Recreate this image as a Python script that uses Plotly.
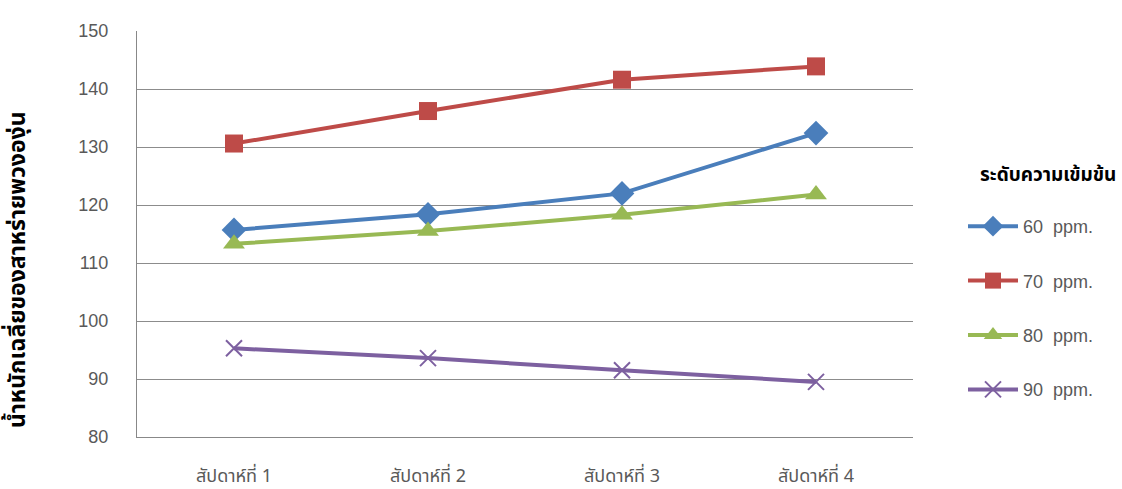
import plotly.graph_objects as go

weeks = ["สัปดาห์ที่ 1", "สัปดาห์ที่ 2", "สัปดาห์ที่ 3", "สัปดาห์ที่ 4"]
series_names = ["60  ppm.", "70  ppm.", "80  ppm.", "90  ppm."]
ppm60 = [115.7, 118.4, 122.0, 132.4]
ppm70 = [130.6, 136.2, 141.6, 143.9]
ppm80 = [113.3, 115.5, 118.3, 121.8]
ppm90 = [95.3, 93.6, 91.5, 89.5]
y_title = "น้ำหนักเฉลี่ยของสาหร่ายพวงองุ่น"
legend_title = "ระดับความเข้มข้น"

colors = ["#4A7EBB", "#BE4B48", "#98B954", "#7D60A0"]
symbols = ["diamond", "square", "triangle-up", "x-thin"]
sizes = [19, 18, 19, 16]
values = [ppm60, ppm70, ppm80, ppm90]

THAI = "Noto Sans Thai, Tahoma, Noto Sans, DejaVu Sans, sans-serif"
NUM = "Liberation Sans, Arial, sans-serif"

fig = go.Figure()
for i, (name, vals) in enumerate(zip(series_names, values)):
    if symbols[i] == "x-thin":
        marker = dict(symbol="x-thin", size=sizes[i], color=colors[i],
                      line=dict(color=colors[i], width=2))
    else:
        marker = dict(symbol=symbols[i], size=sizes[i], color=colors[i],
                      line=dict(width=0))
    fig.add_trace(go.Scatter(
        x=weeks, y=vals, name=name, mode="lines+markers",
        line=dict(color=colors[i], width=4),
        marker=marker, legendgroup=f"g{i}",
    ))

fig.update_layout(
    width=1122, height=489,
    margin=dict(l=137, r=209, t=31, b=52),
    paper_bgcolor="white", plot_bgcolor="white",
    font=dict(family=NUM, color="#595959", size=18),
    xaxis=dict(
        type="category", range=[-0.5, 3.5], showgrid=False,
        showline=True, linecolor="#888888", linewidth=1,
        ticks="", tickfont=dict(family=THAI, size=18, color="#595959"),
        ticklabelstandoff=22, zeroline=False, fixedrange=True,
        automargin=False,
    ),
    yaxis=dict(
        range=[80, 150], dtick=10, tick0=80,
        showgrid=True, gridcolor="#8C8C8C", gridwidth=1,
        showline=True, linecolor="#888888", linewidth=1,
        ticks="", tickfont=dict(family=NUM, size=18, color="#595959"),
        ticklabelstandoff=24, zeroline=False, fixedrange=True,
        automargin=False,
    ),
    legend=dict(
        x=(963 - 137) / 776, xanchor="left", y=(437 - 208) / 406, yanchor="top",
        font=dict(family=NUM, size=18, color="#595959"),
        itemwidth=50, tracegroupgap=28, traceorder="grouped",
        bgcolor="rgba(0,0,0,0)",
    ),
    showlegend=True,
)

fig.add_annotation(
    text="<b>" + legend_title + "</b>", xref="paper", yref="paper",
    x=(1048 - 137) / 776, y=(437 - 175) / 406,
    showarrow=False, xanchor="center", yanchor="middle",
    font=dict(family=THAI, size=19, color="#000000"),
)

fig.add_annotation(
    text="<b>" + y_title + "</b>", xref="paper", yref="paper",
    x=(18 - 137) / 776, y=(437 - 270) / 406, textangle=-90,
    showarrow=False, xanchor="center", yanchor="middle",
    font=dict(family=THAI, size=23, color="#000000"),
)

fig.write_html("out.html")
